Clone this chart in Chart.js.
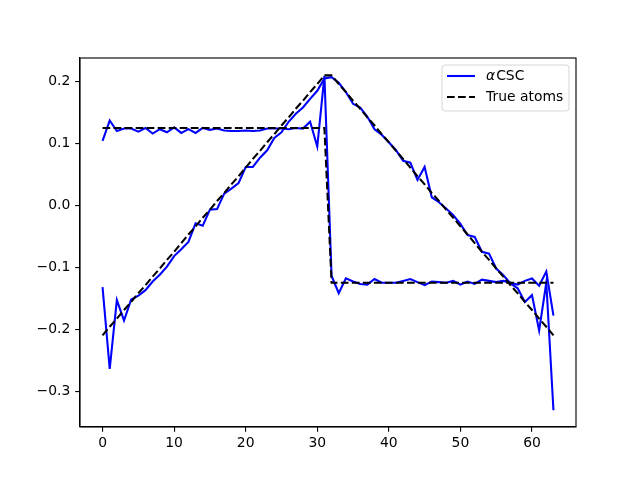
<!DOCTYPE html>
<html>
<head>
<meta charset="utf-8">
<script src="https://cdn.jsdelivr.net/npm/chart.js@4.4.1/dist/chart.umd.min.js"></script>
<style>
html, body { margin: 0; padding: 0; background: #fff; }
#wrap { width: 640px; height: 480px; position: relative; }
</style>
</head>
<body>
<div id="wrap"><canvas id="chart"></canvas></div>
<script>
// estimated atoms
const stepEstimate = [
    0.104, 0.137, 0.120, 0.124, 0.124, 0.119, 0.125, 0.116, 0.123, 0.118, 0.126, 0.117, 0.123, 0.117, 0.125, 0.122,
    0.124, 0.121, 0.120, 0.120, 0.121, 0.120, 0.121, 0.124, 0.124, 0.124, 0.123, 0.125, 0.124, 0.135, 0.095, 0.209,
    -0.114, -0.142, -0.118, -0.123, -0.127, -0.128, -0.119, -0.125, -0.125, -0.125, -0.122, -0.119, -0.124, -0.129, -0.123, -0.124,
    -0.125, -0.122, -0.128, -0.123, -0.127, -0.120, -0.122, -0.124, -0.122, -0.125, -0.128, -0.122, -0.118, -0.130, -0.107, -0.178
];
const triangleEstimate = [
    -0.132, -0.264, -0.153, -0.186, -0.152, -0.146, -0.137, -0.123, -0.112, -0.099, -0.082, -0.071, -0.059, -0.029, -0.033, -0.007,
    -0.006, 0.019, 0.027, 0.036, 0.062, 0.062, 0.077, 0.089, 0.109, 0.118, 0.135, 0.148, 0.158, 0.172, 0.185, 0.205,
    0.207, 0.198, 0.183, 0.164, 0.158, 0.143, 0.123, 0.114, 0.102, 0.089, 0.072, 0.069, 0.041, 0.062, 0.013, 0.005,
    -0.005, -0.016, -0.030, -0.048, -0.051, -0.075, -0.078, -0.102, -0.113, -0.126, -0.134, -0.156, -0.145, -0.202, -0.125, -0.331
];
// true atoms
const stepTrue = [
    0.125, 0.125, 0.125, 0.125, 0.125, 0.125, 0.125, 0.125, 0.125, 0.125, 0.125, 0.125, 0.125, 0.125, 0.125, 0.125,
    0.125, 0.125, 0.125, 0.125, 0.125, 0.125, 0.125, 0.125, 0.125, 0.125, 0.125, 0.125, 0.125, 0.125, 0.125, 0.125,
    -0.125, -0.125, -0.125, -0.125, -0.125, -0.125, -0.125, -0.125, -0.125, -0.125, -0.125, -0.125, -0.125, -0.125, -0.125, -0.125,
    -0.125, -0.125, -0.125, -0.125, -0.125, -0.125, -0.125, -0.125, -0.125, -0.125, -0.125, -0.125, -0.125, -0.125, -0.125, -0.125
];
const triangleTrue = [
    -0.210, -0.196, -0.183, -0.169, -0.156, -0.142, -0.129, -0.115, -0.102, -0.088, -0.075, -0.061, -0.047, -0.034, -0.020, -0.007,
    0.007, 0.020, 0.034, 0.047, 0.061, 0.075, 0.088, 0.102, 0.115, 0.129, 0.142, 0.156, 0.169, 0.183, 0.196, 0.210,
    0.210, 0.196, 0.183, 0.169, 0.156, 0.142, 0.129, 0.115, 0.102, 0.088, 0.075, 0.061, 0.047, 0.034, 0.020, 0.007,
    -0.007, -0.020, -0.034, -0.047, -0.061, -0.075, -0.088, -0.102, -0.115, -0.129, -0.142, -0.156, -0.169, -0.183, -0.196, -0.210
];
const xTicks = [0, 10, 20, 30, 40, 50, 60];
const yTicks = [-0.3, -0.2, -0.1, 0.0, 0.1, 0.2];
const seriesLabels = ["αCSC", "True atoms"];

const FONT = "DejaVu Sans";
const FS = 13.9;
const BLUE = "#0000ff";
const LW = 2.08;
const DASH = [7.7, 3.33];
const TICK = 4.86;

const toPoints = arr => arr.map((v, i) => ({x: i, y: v}));

function lineSet(label, data, color, dashed, order) {
    return {
        label: label,
        data: toPoints(data),
        borderColor: color,
        borderWidth: LW,
        borderDash: dashed ? DASH : [],
        pointRadius: 0,
        tension: 0,
        fill: false,
        order: order,
    };
}

// matplotlib-like frame and legend inside the axes
const frameAndLegend = {
    id: "frameAndLegend",
    afterDraw(chart) {
        const ctx = chart.ctx;
        const a = chart.chartArea;
        ctx.save();
        ctx.strokeStyle = "#000";
        ctx.lineWidth = 1.11;
        ctx.strokeRect(a.left, a.top, a.right - a.left, a.bottom - a.top);

        const w = 127, h = 46;
        const x = a.right - 7 - w, y = a.top + 7;
        ctx.beginPath();
        ctx.roundRect(x, y, w, h, 3);
        ctx.fillStyle = "rgba(255,255,255,0.8)";
        ctx.fill();
        ctx.strokeStyle = "rgba(204,204,204,0.8)";
        ctx.lineWidth = 1;
        ctx.stroke();

        const rows = [y + 11, y + 32];
        ctx.lineWidth = LW;
        ctx.strokeStyle = BLUE;
        ctx.setLineDash([]);
        ctx.beginPath(); ctx.moveTo(x + 5, rows[0]); ctx.lineTo(x + 33, rows[0]); ctx.stroke();
        ctx.strokeStyle = "#000";
        ctx.setLineDash(DASH);
        ctx.beginPath(); ctx.moveTo(x + 5, rows[1]); ctx.lineTo(x + 33, rows[1]); ctx.stroke();
        ctx.setLineDash([]);

        ctx.fillStyle = "#000";
        ctx.textBaseline = "middle";
        const tx = x + 44;
        ctx.font = "italic " + FS + "px '" + FONT + "'";
        const alpha = seriesLabels[0].charAt(0);
        ctx.fillText(alpha, tx, rows[0]);
        const aw = ctx.measureText(alpha).width;
        ctx.font = FS + "px '" + FONT + "'";
        ctx.fillText(seriesLabels[0].slice(1), tx + aw + 1, rows[0]);
        ctx.fillText(seriesLabels[1], tx, rows[1]);
        ctx.restore();
    }
};

new Chart(document.getElementById("chart"), {
    type: "line",
    data: {
        datasets: [
            lineSet(seriesLabels[0], stepEstimate, BLUE, false, 3),
            lineSet(seriesLabels[0], triangleEstimate, BLUE, false, 2),
            lineSet(seriesLabels[1], stepTrue, "#000", true, 1),
            lineSet(seriesLabels[1], triangleTrue, "#000", true, 0),
        ]
    },
    options: {
        responsive: true,
        maintainAspectRatio: false,
        animation: false,
        layout: { padding: { top: 58, right: 64, bottom: 0, left: 0 } },
        plugins: { legend: { display: false }, tooltip: { enabled: false } },
        scales: {
            x: {
                type: "linear",
                min: -3.15,
                max: 66.15,
                afterBuildTicks: s => { s.ticks = xTicks.map(v => ({value: v})); },
                afterFit: s => { s.height = 53; },
                ticks: {
                    color: "#000",
                    font: { family: FONT, size: FS },
                    padding: 3,
                    maxRotation: 0,
                    callback: v => String(v),
                },
                grid: { drawOnChartArea: false, drawTicks: true, tickLength: TICK, color: "#000", lineWidth: 1.11 },
                border: { display: true, color: "#000", width: 1.11 },
            },
            y: {
                type: "linear",
                min: -0.358,
                max: 0.238,
                afterBuildTicks: s => { s.ticks = yTicks.map(v => ({value: v})); },
                afterFit: s => { s.width = 80; },
                ticks: {
                    color: "#000",
                    font: { family: FONT, size: FS },
                    padding: 4.86,
                    callback: v => v.toFixed(1).replace("-", "\u2212"),
                },
                grid: { drawOnChartArea: false, drawTicks: true, tickLength: TICK, color: "#000", lineWidth: 1.11 },
                border: { display: true, color: "#000", width: 1.11 },
            }
        }
    },
    plugins: [frameAndLegend]
});
</script>
</body>
</html>
